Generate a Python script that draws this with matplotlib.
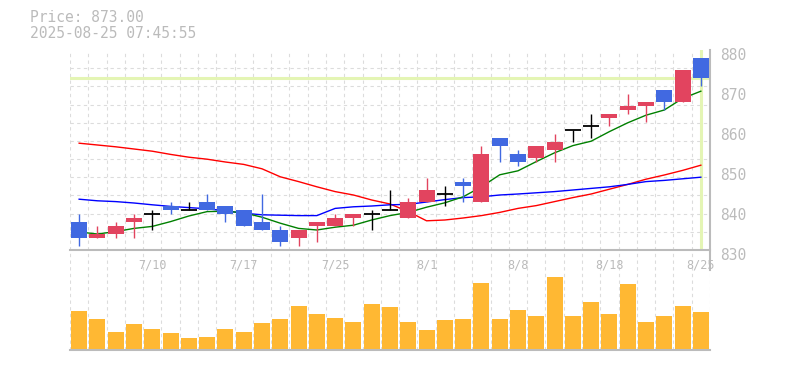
import matplotlib
matplotlib.use("Agg")
import matplotlib.pyplot as plt
import numpy as np
from matplotlib.transforms import ScaledTranslation

plt.rcParams['font.family'] = ['DejaVu Sans Mono']

# ---------------- data ----------------
opens  = [837, 833, 834, 837, 839, 841, 840, 842, 841, 840, 837, 835, 833, 836, 836,
          838, 839, 840, 838, 842, 844, 847, 842, 858, 854, 853, 855, 860, 861, 863,
          865, 866, 870, 867, 878]
highs  = [839, 836, 837, 839, 840, 842, 842, 844, 841, 840, 844, 836, 835, 837, 839,
          839, 840, 845, 843, 848, 846, 848, 856, 858, 855, 856, 859, 860, 864, 864,
          869, 867, 870, 875, 878]
lows   = [831, 833, 833, 833, 835, 839, 840, 840, 837, 836, 835, 831, 831, 832, 836,
          836, 835, 840, 838, 842, 841, 842, 842, 852, 851, 852, 852, 857, 858, 861,
          864, 862, 865, 867, 871]
closes = [833, 834, 836, 838, 839, 840, 840, 840, 839, 836, 835, 832, 835, 837, 838,
          839, 839, 840, 842, 845, 844, 846, 854, 856, 852, 856, 857, 860, 861, 864,
          866, 867, 867, 875, 873]
volumes = [39, 31, 18, 26, 21, 17, 12, 13, 21, 18, 27, 31, 44, 36, 32, 28, 46, 43,
           28, 20, 30, 31, 67, 31, 40, 34, 73, 34, 48, 36, 66, 28, 34, 44, 38]  # thousands

ma_short = [834.5, 834.0, 834.6, 835.4, 835.9, 837.1, 838.5, 839.6, 839.7, 839.3,
            838.2, 836.7, 835.4, 835.0, 835.7, 836.2, 837.5, 838.6, 839.4, 840.7,
            841.8, 843.3, 845.8, 848.8, 849.8, 852.1, 854.3, 856.1, 857.2, 859.6,
            861.8, 863.7, 865.0, 867.9, 869.7]
ma_mid = [842.7, 842.3, 842.1, 841.75, 841.3, 840.9, 840.6, 840.3, 839.8, 839.2,
          838.8, 838.7, 838.6, 838.6, 840.4, 840.8, 841.0, 841.3, 841.4, 842.0,
          842.6, 843.1, 843.3, 843.75, 844.0, 844.3, 844.6, 845.0, 845.4, 845.8,
          846.4, 847.1, 847.4, 847.8, 848.2]
ma_long = [856.7, 856.25, 855.8, 855.25, 854.7, 853.9, 853.2, 852.7, 852.0, 851.4,
           850.3, 848.3, 847.1, 845.8, 844.6, 843.75, 842.5, 841.5, 839.6, 837.3,
           837.5, 838.0, 838.6, 839.4, 840.4, 841.1, 842.1, 843.1, 844.0, 845.2,
           846.4, 847.7, 848.75, 849.9, 851.2]

tick_positions = [4, 9, 14, 19, 24, 29, 34]
tick_labels = ['7/10', '7/17', '7/25', '8/1', '8/8', '8/18', '8/25']
price_ticks = [830, 840, 850, 860, 870, 880]
timestamp = '2025-08-25 07:45:55'

# ---------------- styling ----------------
UP = '#e2445f'
DOWN = '#4169e1'
DOJI = '#000000'
VOL = '#ffb833'
GRID = '#dcdcdc'
AXC = '#bbbbbb'
TXT = '#bbbbbb'
MARK = '#e4f5b4'

W, H = 785, 370
fig = plt.figure(figsize=(W / 100, H / 100), dpi=100)
fig.patch.set_facecolor('white')


def rect(l, t, r, b):
    return [l / W, 1 - b / H, (r - l) / W, (b - t) / H]


axv = fig.add_axes(rect(70, 250, 710, 350))
ax = fig.add_axes(rect(70, 50, 710, 250))
axv.patch.set_visible(False)
ax.patch.set_visible(False)

o = np.array(opens, float)
h = np.array(highs, float)
l = np.array(lows, float)
c = np.array(closes, float)
n = len(c)
x = np.arange(n)
bw = 0.875

for a in (ax, axv):
    a.set_xlim(-0.5, n - 0.5)
    a.set_xticks(np.arange(-0.5, n, 1.0), minor=True)
    a.grid(which='minor', axis='x', color=GRID, linestyle=(0, (3, 3)), linewidth=0.8)
    a.set_axisbelow(True)
    a.tick_params(which='minor', length=0)
    for s in ('top', 'left', 'right'):
        a.spines[s].set_visible(False)
    a.spines['bottom'].set_color(AXC)
    a.spines['bottom'].set_linewidth(1.5)

# price panel
ax.set_ylim(830, 880)
ax.set_yticks(np.linspace(830, 880, 12), minor=True)
ax.grid(which='minor', axis='y', color=GRID, linestyle=(0, (3, 3)), linewidth=0.8)
ax.spines['right'].set_visible(True)
ax.spines['right'].set_color(AXC)
ax.spines['right'].set_linewidth(1.5)
ax.spines['right'].set_bounds(825, 880)

ax.yaxis.tick_right()
ax.set_yticks(price_ticks)
ax.set_yticklabels([str(v) for v in price_ticks])
ax.tick_params(axis='y', which='major', length=0, pad=7, labelsize=10.5, labelcolor=TXT)
for t in ax.yaxis.get_major_ticks():
    t.label2.set_transform(t.label2.get_transform() +
                           ScaledTranslation(0, -3 / 72, fig.dpi_scale_trans))

ax.set_xticks(tick_positions)
ax.set_xticklabels(tick_labels)
ax.tick_params(axis='x', which='major', length=0, pad=6, labelsize=8.5, labelcolor=TXT)

# current price markers
ax.axhline(c[-1], color=MARK, linewidth=2.2, zorder=1)
ax.axvline(x[-1], color=MARK, linewidth=2.2, zorder=1)

# moving averages
ax.plot(x, ma_long, color='#ff0000', linewidth=1.0, zorder=1.5)
ax.plot(x, ma_mid, color='#0000ff', linewidth=1.0, zorder=1.5)
ax.plot(x, ma_short, color='#008000', linewidth=1.0, zorder=1.5)

# candles
up = c > o
down = c < o
doji = c == o
wick_colors = np.where(up, UP, np.where(down, DOWN, DOJI))
ax.vlines(x, l, h, colors=list(wick_colors), linewidth=1.0, zorder=2)
ax.bar(x[up], (c - o)[up], bottom=o[up], width=bw, color=UP, zorder=3, linewidth=0)
ax.bar(x[down], (o - c)[down], bottom=c[down], width=bw, color=DOWN, zorder=3, linewidth=0)
ax.hlines(c[doji], x[doji] - bw / 2, x[doji] + bw / 2, colors=DOJI, linewidth=1.3, zorder=3)

# volume panel
vol = np.array(volumes, float) * 1000
axv.bar(x, vol, width=bw, color=VOL, zorder=2, linewidth=0)
axv.set_ylim(0, 100000)
axv.set_yticks([])
axv.set_xticks([])

# header texts
fig.text(30 / W, 1 - 17 / H, f'Price: {c[-1]:.2f}', color=TXT, fontsize=10.5,
         ha='left', va='center')
fig.text(30 / W, 1 - 33 / H, timestamp, color=TXT, fontsize=10.5,
         ha='left', va='center')

fig.savefig('out.png', dpi=100, facecolor='white')
